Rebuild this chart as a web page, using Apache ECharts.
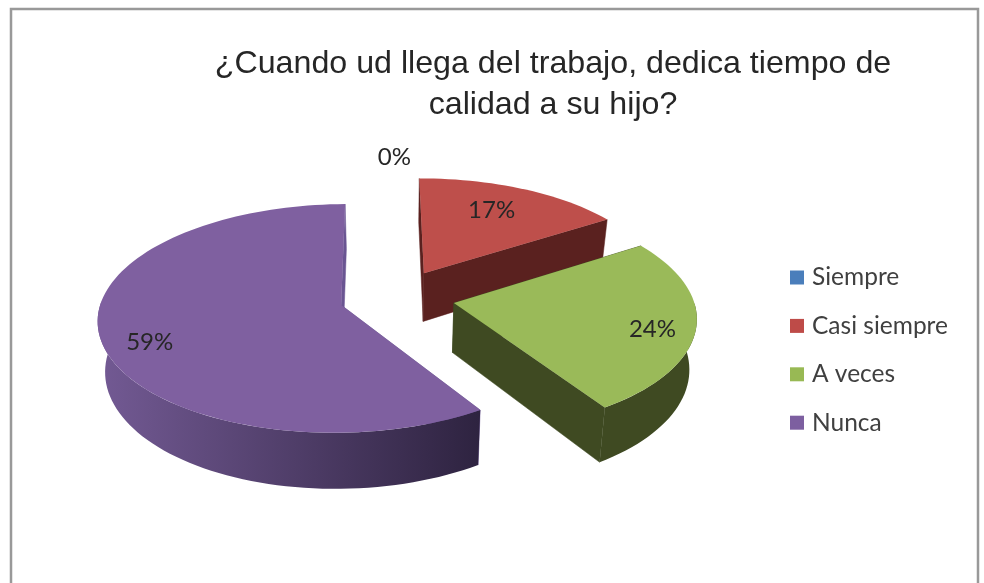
<!DOCTYPE html>
<html>
<head>
<meta charset="utf-8">
<style>
html,body{margin:0;padding:0;background:#fff;overflow:hidden;}
#chart{width:984px;height:583px;filter:blur(0.4px);}
</style>
<script src="https://cdn.jsdelivr.net/npm/echarts@6/dist/echarts.min.js"></script>
</head>
<body>
<div id="chart"></div>
<script>
// --- data ---
var categories = ['Siempre', 'Casi siempre', 'A veces', 'Nunca'];
var values = [0, 17, 24, 59];
var titleText = '¿Cuando ud llega del trabajo, dedica tiempo de\ncalidad a su hijo?';

// --- style ---
var topColors = ['#4F81BD', '#BE4F4B', '#9ABA59', '#7F60A0'];
var legendColors = ['#4A7EBB', '#BE4B48', '#98B954', '#7D5FA0'];
var radialColors = ['#2c4a6e', '#5A211F', '#3F4A22', '#6A5592'];
var wallStops = [
  ['#2c4a6e', '#2c4a6e'],
  ['#5A211F', '#5A211F'],
  ['#3F4A22', '#3F4A22'],
  ['#735A94', '#2E2340']
];
var labelRadius = [1.22, 0.72, 0.83, 0.82];
var labelTurn = [0, -2, 4, -6];

// --- 3D pie projection ---
var cam = {cx: 397, cy: 297, A: 239, B: 110.9, k: 0.1158, explode: 0.242, explodeDepth: 0.25, rot: -0.5,
           shrink: 0.975, yScale: 1.05, yShift: 34.5};
var total = values.reduce(function (a, b) { return a + b; }, 0);

function warp(deg) { // foreshortening of the far right quadrant
  return (deg > 0 && deg < 90) ? deg - 4 * Math.sin(2 * deg * Math.PI / 180) : deg;
}
function sliceRange(i) {
  var before = 0;
  for (var j = 0; j < i; j++) before += values[j];
  return [warp(before / total * 360) + cam.rot, warp((before + values[i]) / total * 360) + cam.rot];
}
function project(X, V) {
  var s = 1 / (1 - cam.k * V);
  return [cam.cx + cam.A * X * s, cam.cy + cam.B * V * s];
}
function lower(p) {
  return [cam.cx + (p[0] - cam.cx) * cam.shrink, p[1] * cam.yScale + cam.yShift];
}
function slicePoint(mid, deg, r) {
  var m = mid * Math.PI / 180, t = deg * Math.PI / 180;
  return project(cam.explode * Math.sin(m) + r * Math.sin(t), -cam.explodeDepth * Math.cos(m) - r * Math.cos(t));
}

function renderSlice(i, api) {
  var range = sliceRange(i), a0 = range[0], a1 = range[1], mid = (a0 + a1) / 2;
  var children = [];
  var value = api.value(0);
  if (value > 0) {
    var apex = slicePoint(mid, 0, 0);
    var arc = [];
    var n = Math.ceil((a1 - a0) / 2);
    for (var j = 0; j <= n; j++) arc.push(slicePoint(mid, a0 + (a1 - a0) * j / n, 1));
    var startP = arc[0], endP = arc[arc.length - 1];
    // radial walls
    [startP, endP].forEach(function (p) {
      children.push({type: 'polygon', shape: {points: [apex, p, lower(p), lower(apex)]},
        style: {fill: radialColors[i], stroke: radialColors[i], lineWidth: 0.5}});
    });
    // outer wall (front half only)
    var wa0 = Math.max(a0, 90), wa1 = Math.min(a1, 272);
    if (wa1 > wa0) {
      var up = [], down = [];
      var m = Math.ceil((wa1 - wa0) / 2);
      for (var q = 0; q <= m; q++) {
        var pt = slicePoint(mid, wa0 + (wa1 - wa0) * q / m, 1);
        up.push(pt); down.unshift(lower(pt));
      }
      children.push({type: 'polygon', shape: {points: up.concat(down)},
        style: {fill: {type: 'linear', x: 0, y: 0, x2: 1, y2: 0, global: false,
          colorStops: [{offset: 0, color: wallStops[i][0]}, {offset: 1, color: wallStops[i][1]}]}}});
    }
    // top face
    children.push({type: 'polygon', shape: {points: [apex].concat(arc)},
      style: {fill: topColors[i]}});
  }
  var lp = slicePoint(mid, mid + labelTurn[i], labelRadius[i]);
  children.push({type: 'text', x: lp[0], y: lp[1], z2: 10,
    style: {text: Math.round(value / total * 100) + '%', align: 'center', verticalAlign: 'middle',
      font: '24px Lato', fill: '#262626'}});
  return {type: 'group', children: children};
}

var chart = echarts.init(document.getElementById('chart'), null, {renderer: 'canvas'});
chart.setOption({
  animation: false,
  backgroundColor: '#ffffff',
  title: {
    text: titleText, left: 548, top: 39, textAlign: 'center',
    textStyle: {fontFamily: 'Liberation Sans', fontSize: 32.2, fontWeight: 'normal', color: '#262626', lineHeight: 41}
  },
  legend: {
    orient: 'vertical', left: 785, top: 260, itemWidth: 14, itemHeight: 14, itemGap: 23.4,
    icon: 'rect', selectedMode: false,
    data: categories,
    textStyle: {fontFamily: 'Lato', fontSize: 24.5, color: '#404040', padding: [0, 0, 0, 3]}
  },
  graphic: [{
    type: 'rect', silent: true, z: -1,
    shape: {x: 11, y: 9, width: 967, height: 640},
    style: {fill: 'none', stroke: '#999999', lineWidth: 2.5}
  }],
  series: categories.map(function (name, i) {
    return {
      type: 'custom', name: name, coordinateSystem: 'none', silent: true,
      itemStyle: {color: legendColors[i]},
      data: [[values[i]]],
      renderItem: function (params, api) { return renderSlice(i, api); }
    };
  })
});
</script>
</body>
</html>
